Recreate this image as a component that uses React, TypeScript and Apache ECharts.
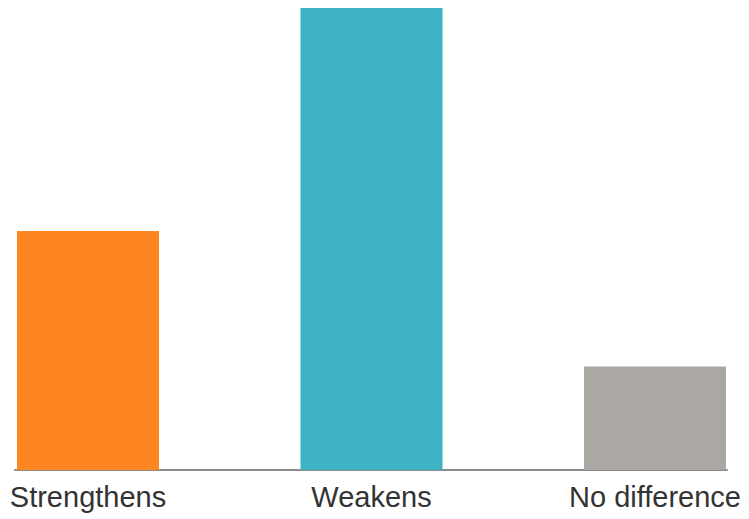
import React, { useEffect, useRef } from "react";
import * as echarts from "echarts";

const categories = ["Strengthens", "Weakens", "No difference"];
const values = [30, 58, 13];
const colors = ["#FF8522", "#3EB3C6", "#ABA7A3"];

export default function App() {
  const ref = useRef<HTMLDivElement>(null);
  useEffect(() => {
    document.body.style.margin = "0";
    const chart = echarts.init(ref.current!, null, { renderer: "svg" });
    chart.setOption({
      animation: false,
      grid: { left: 15, right: 22, top: 8, bottom: 49, containLabel: false },
      xAxis: {
        type: "value",
        min: -0.2575,
        max: 2.254,
        splitLine: { show: false },
        axisLine: { show: true, lineStyle: { color: "#8C8C8C", width: 2 } },
        axisTick: { show: false },
        axisLabel: {
          customValues: [0, 1, 2],
          formatter: (v: number) => categories[Math.round(v)] ?? "",
          color: "#333333",
          fontSize: 29,
          fontFamily: "Liberation Sans, Arial, sans-serif",
          margin: 12,
        },
      },
      yAxis: {
        type: "value",
        min: 0,
        max: 58,
        show: false,
        splitLine: { show: false },
      },
      series: [
        {
          type: "bar",
          barWidth: 142,
          data: values.map((v, i) => ({ value: [i, v], itemStyle: { color: colors[i] } })),
        },
      ],
    });
    return () => chart.dispose();
  }, []);
  return <div ref={ref} style={{ width: 749, height: 519 }} />;
}
